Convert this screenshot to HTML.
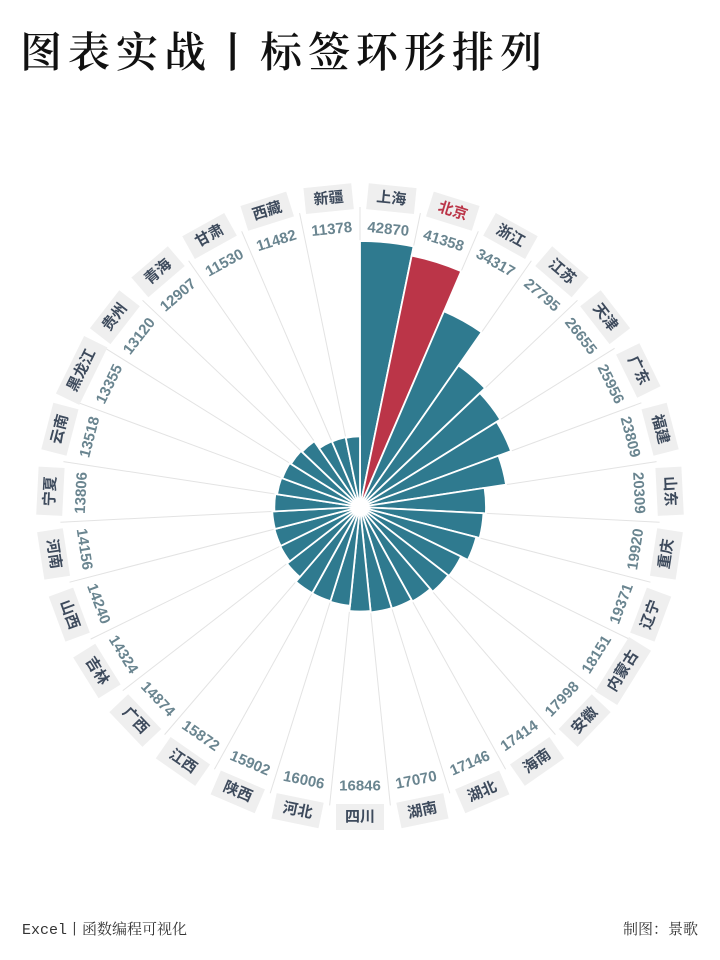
<!DOCTYPE html>
<html><head><meta charset="utf-8">
<style>
html,body{margin:0;padding:0;background:#fff;}
#wrap{position:relative;width:720px;height:960px;overflow:hidden;font-family:"Liberation Sans","Noto Sans CJK SC",sans-serif;}
#title{position:absolute;left:20px;top:20px;font-family:"Noto Serif CJK SC",serif;font-weight:600;font-size:42px;color:#111;letter-spacing:6px;}
.foot{position:absolute;top:918px;font-size:15px;color:#333;font-family:"Liberation Mono","Noto Serif CJK SC",serif;}
</style></head><body>
<div id="wrap">
<div id="title">图表实战丨标签环形排列</div>
<svg id="chart" width="720" height="960" style="position:absolute;left:0;top:0"></svg>
<div class="foot" style="left:22px">Excel丨函数编程可视化</div>
<div class="foot" style="right:22px">制图：景歌</div>
</div>
<script>
const categories=["上海","北京","浙江","江苏","天津","广东","福建","山东","重庆","辽宁","内蒙古","安徽","海南","湖北","湖南","四川","河北","陕西","江西","广西","吉林","山西","河南","宁夏","云南","黑龙江","贵州","青海","甘肃","西藏","新疆"];
const values=[42870,41358,34317,27795,26655,25956,23809,20309,19920,19371,18151,17998,17414,17146,17070,16846,16006,15902,15872,14874,14324,14240,14156,13806,13518,13355,13120,12907,11530,11482,11378];
const highlight="北京";
const svg=document.getElementById('chart');
const NS="http://www.w3.org/2000/svg";
const cx=360,cy=507,maxR=266,maxV=Math.max(...values);
const n=categories.length,step=360/n;
function rScale(v){return v/maxV*maxR;}
function pt(a,r){const t=a*Math.PI/180;return [cx+r*Math.sin(t),cy-r*Math.cos(t)];}
function mk(tag,attrs){const e=document.createElementNS(NS,tag);for(const k in attrs)e.setAttribute(k,attrs[k]);return e;}
for(let i=0;i<n;i++){
  const p=pt(i*step,300);
  const l=mk('line',{x1:cx,y1:cy,x2:p[0],y2:p[1],stroke:'#e3e3e3','stroke-width':1});
  
  
  svg.appendChild(l);
}
function rotFor(a){let r=a;if(a>90&&a<270)r=a-180;else if(a>=270)r=a-360;return r;}
for(let i=0;i<n;i++){
  const a0=i*step,a1=(i+1)*step,am=(i+0.5)*step;
  const r=rScale(values[i]);
  const p0=pt(a0,r),p1=pt(a1,r);
  const isH=categories[i]===highlight;
  const path=mk('path',{d:`M${cx},${cy} L${p0[0]},${p0[1]} A${r},${r} 0 0 1 ${p1[0]},${p1[1]} Z`,fill:isH?'#bb3548':'#2f7a8f',stroke:'#fff','stroke-width':1.8});
  
  
  svg.appendChild(path);
  const rot=rotFor(am);
  const vp=pt(am,279);
  const vt=mk('text',{x:vp[0],y:vp[1],'text-anchor':'middle','dominant-baseline':'central','font-size':15,'font-weight':'bold',fill:'#6a8590',transform:`rotate(${rot} ${vp[0]} ${vp[1]})`});
  vt.textContent=values[i];
  
  
  svg.appendChild(vt);
  const cp=pt(am,310);
  const g=mk('g',{transform:`translate(${cp[0]} ${cp[1]}) rotate(${rot})`});
  
  
  const w=categories[i].length*16+16;
  g.appendChild(mk('rect',{x:-w/2,y:-13,width:w,height:26,fill:'#efefef'}));
  const ct=mk('text',{x:0,y:0,'text-anchor':'middle','dominant-baseline':'central','font-size':15,'font-weight':'bold',fill:isH?'#bb3548':'#3d4a5c'});
  ct.textContent=categories[i];
  g.appendChild(ct);
  svg.appendChild(g);
}
</script>
</body></html>
